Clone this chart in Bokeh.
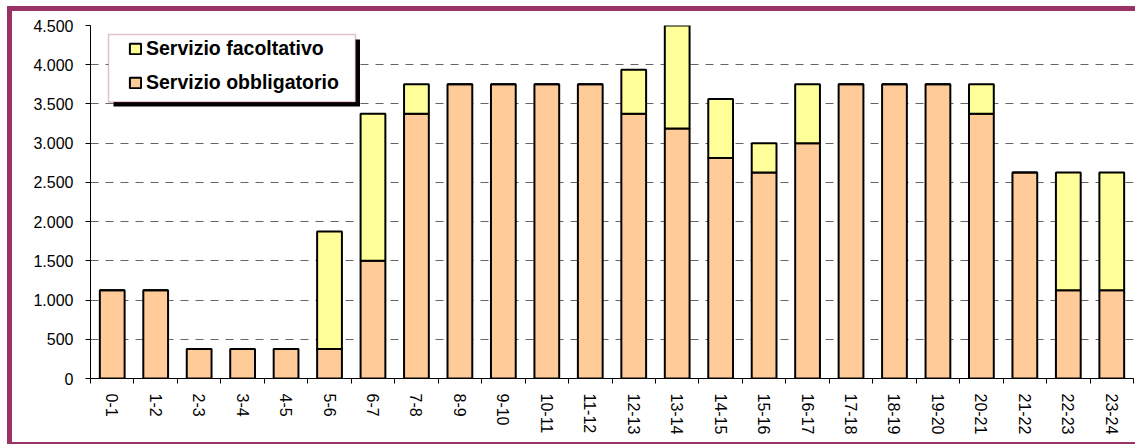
from bokeh.plotting import figure
from bokeh.models import (Range1d, FixedTicker, ColumnDataSource, Legend, LegendItem,
                          BoxAnnotation)
from bokeh.embed import file_html
from bokeh.resources import INLINE

# Hourly service volumes (stacked: mandatory + optional)
hours = ["0-1", "1-2", "2-3", "3-4", "4-5", "5-6", "6-7", "7-8", "8-9", "9-10",
         "10-11", "11-12", "12-13", "13-14", "14-15", "15-16", "16-17", "17-18",
         "18-19", "19-20", "20-21", "21-22", "22-23", "23-24"]
obbligatorio = [1125, 1125, 375, 375, 375, 375, 1500, 3375, 3750, 3750, 3750, 3750,
                3375, 3187.5, 2812.5, 2625, 3000, 3750, 3750, 3750, 3375, 2625, 1125, 1125]
facoltativo = [0, 0, 0, 0, 0, 1500, 1875, 375, 0, 0, 0, 0,
               562.5, 1312.5, 750, 375, 750, 0, 0, 0, 375, 0, 1500, 1500]
y_ticks = [0, 500, 1000, 1500, 2000, 2500, 3000, 3500, 4000, 4500]
y_tick_labels = ["0", "500", "1.000", "1.500", "2.000", "2.500", "3.000", "3.500", "4.000", "4.500"]
series_names = ["Servizio obbligatorio", "Servizio facoltativo"]

ORANGE = "#FFCC99"
YELLOW = "#FFFF99"
PURPLE = "#993366"
FONT = "Liberation Sans"

n = len(hours)
centers = [i + 0.5 for i in range(n)]
bounds = list(range(n + 1))

source = ColumnDataSource(dict(x=centers, hour=hours, obbligatorio=obbligatorio,
                               facoltativo=facoltativo))

p = figure(width=1135, height=444, output_backend="svg", toolbar_location=None,
           x_range=Range1d(0, n), y_range=Range1d(0, 4500),
           min_border_left=90, min_border_right=2, min_border_top=25, min_border_bottom=66)
# purple chart-area frame (left, top, bottom) painted behind a transparent canvas border
p.styles = {
    "background-color": "white",
    "box-shadow": (f"inset 7px 0 0 0 white, inset 0 6px 0 0 white, "
                   f"inset 12px 0 0 0 {PURPLE}, inset 0 11px 0 0 {PURPLE}, "
                   f"inset 0 -2px 0 0 {PURPLE}"),
}
p.outline_line_color = None
p.background_fill_color = "white"
p.border_fill_alpha = 0

renderers = p.vbar_stack(["obbligatorio", "facoltativo"], x="x", width=0.57,
                         color=[ORANGE, YELLOW], line_color="black", line_width=2,
                         source=source)

# axes
xa = p.xaxis[0]
xa.ticker = FixedTicker(ticks=centers, minor_ticks=bounds)
xa.major_label_overrides = {c: h for c, h in zip(centers, hours)}
xa.major_label_orientation = "vertical"
xa.major_tick_line_color = None
xa.major_tick_out = 5
xa.major_tick_in = 0
xa.minor_tick_out = 5
xa.minor_tick_in = 0
xa.minor_tick_line_color = "black"
xa.axis_line_color = "black"
xa.major_label_standoff = 10
xa.major_label_text_font = FONT
xa.major_label_text_font_size = "16px"
xa.major_label_text_color = "black"

ya = p.yaxis[0]
ya.ticker = FixedTicker(ticks=y_ticks)
ya.major_label_overrides = {t: l for t, l in zip(y_ticks, y_tick_labels)}
ya.major_tick_out = 5
ya.major_tick_in = 0
ya.minor_tick_line_color = None
ya.axis_line_color = "black"
ya.major_label_standoff = 12
ya.major_label_text_font = FONT
ya.major_label_text_font_size = "16px"
ya.major_label_text_color = "black"

p.xgrid.grid_line_color = None
p.ygrid.ticker = FixedTicker(ticks=y_ticks)
p.ygrid.grid_line_color = "#666666"
p.ygrid.grid_line_dash = "8 7"
p.ygrid.grid_line_width = 1.2


# legend frame with drop shadow (pixel positions mapped into the frame's data space)
def dx(px):
    return (px - 90) / 1043 * n


def dy(px):
    return (378 - px) / 353 * 4500


shadow = BoxAnnotation(left=dx(113), right=dx(359.5), top=dy(39), bottom=dy(106),
                       fill_color="black", fill_alpha=1, line_color=None)
box = BoxAnnotation(left=dx(108), right=dx(355), top=dy(34), bottom=dy(101.5),
                    fill_color="white", fill_alpha=1, line_color=PURPLE, line_width=1.5)
p.add_layout(shadow)
p.add_layout(box)

legend = Legend(items=[LegendItem(label=series_names[1], renderers=[renderers[1]]),
                       LegendItem(label=series_names[0], renderers=[renderers[0]])],
                location=(33, 279), padding=5, spacing=11,
                glyph_width=14, glyph_height=13, label_height=22, label_standoff=4,
                label_text_font=FONT, label_text_font_size="19.5px",
                label_text_font_style="bold", label_text_color="black",
                background_fill_alpha=0, border_line_alpha=0)
p.add_layout(legend, "center")

open("out.html", "w").write(file_html(p, INLINE))
